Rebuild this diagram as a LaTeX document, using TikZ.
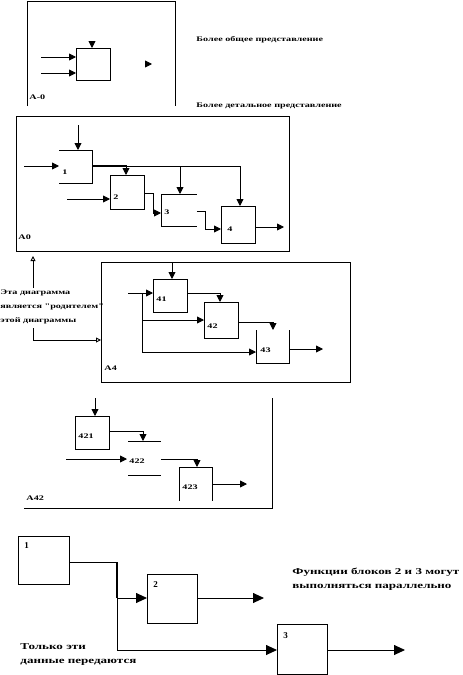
\documentclass[tikz,border=0pt]{standalone}
\usepackage{fontspec}
\setmainfont{Liberation Serif}
\newfontfamily\wfont[FakeStretch=1.45]{Liberation Serif}
\usetikzlibrary{arrows.meta}
\begin{document}
\begin{tikzpicture}[x=1pt,y=-1pt,line width=0.9pt,
  tip/.style={-{Triangle[length=7pt,width=7pt]}},
  tipL/.style={-{Triangle[length=11pt,width=10pt]}},
  otip/.style={-{Triangle[open,length=5pt,width=5pt]}},
  box/.style={draw,inner sep=0pt,anchor=north west},
  pbox/.style={draw=none,inner sep=0pt,anchor=north west},
  lab/.style={anchor=west,inner sep=0pt,font=\wfont\bfseries\fontsize{7}{8}\selectfont},
  note/.style={anchor=west,inner sep=0pt,align=left,font=\wfont\bfseries\fontsize{7}{14}\selectfont},
  bignote/.style={anchor=west,inner sep=0pt,align=left,font=\wfont\bfseries\fontsize{9}{14}\selectfont},
  blab/.style={anchor=west,inner sep=0pt,font=\bfseries\fontsize{9}{10}\selectfont},
  thick2/.style={line width=1.8pt}]
\useasboundingbox (0,0) rectangle (463,675);

% ---------- A-0 ----------
\draw (27,106) -- (27,1) -- (175,1) -- (175,106);
\node[box,minimum width=34pt,minimum height=32pt] (a00) at (76,48) {};
\draw[tip] (92,41) -- (a00.north -| 92,0);
\draw[tip] (41,57) -- (a00.west |- 0,57);
\draw[tip] (41,73) -- (a00.west |- 0,73);
\coordinate (a00o) at (145,64);
\draw[tip] (a00o) -- ++(7,0);
\node[lab] (la00) at (29,97) {А-0};
\node[note] (t1) at (196,40) {Более общее представление};
\node[note] (t2) at (196,106) {Более детальное представление};

% ---------- A0 ----------
\draw (16,116) rectangle (289,251);
\node[lab] (la0) at (18,237) {А0};
\node[pbox,minimum width=33pt,minimum height=33pt] (b1) at (59,150) {};
\draw (b1.north west) -- (b1.north east) -- (b1.south east) -- (b1.south west);
\draw[tip] (78,125) -- (78,150);
\draw[tip] (24,166) -- (b1.west |- 0,166);
\node[lab] (lb1) at (62,172) {1};
\draw[thick2] (b1.east |- 0,166) -- (127,166);
\draw (127,166) -- (240,166);
\node[box,minimum width=34pt,minimum height=34pt] (b2) at (110,175) {};
\node[pbox,minimum width=35pt,minimum height=32pt] (b3) at (161,194) {};
\draw (b3.north east) -- (b3.north west) -- (b3.south west) -- (b3.south east);
\node[box,minimum width=34pt,minimum height=37pt] (b4) at (221,206) {};
\draw[tip] (240,166) -- (b4.north -| 240,0);
\draw[tip] (126,166) -- (b2.north -| 126,0);
\draw[tip] (180,166) -- (b3.north -| 180,0);
\node[lab] (lb2) at (113,197) {2};
\draw[tip] (67,199) -- (b2.west |- 0,199);
\draw[tip] (b2.east |- 0,193) -- (153,193) -- (153,213) -- (b3.west |- 0,213);
\node[lab] (lb3) at (164,212) {3};
\draw[tip] (b3.east |- 0,211) -- (205,211) -- (205,229) -- (b4.west |- 0,229);
\node[lab] (lb4) at (227,229) {4};
\draw[tip] (b4.east |- 0,227) -- (284,227);

% ---------- parent note ----------
\node[note] (pn) at (0,307) {Эта диаграмма\\является "родителем"\\этой диаграммы};
\draw[otip] (33,288) -- (33,256);
\draw[otip] (33,328) -- (33,340) -- (101,340);

% ---------- A4 ----------
\draw (101,262) rectangle (350,382);
\node[lab] (la4) at (104,368) {А4};
\node[box,minimum width=34pt,minimum height=33pt] (c1) at (153,279) {};
\node[box,minimum width=34pt,minimum height=36pt] (c2) at (204,302) {};
\node[pbox,minimum width=33pt,minimum height=33pt] (c3) at (256,330) {};
\draw (c3.north west) -- (c3.south west) -- (c3.south east) -- (c3.north east);
\draw[tip] (172,262) -- (c1.north -| 172,0);
\draw[tip] (128,293) -- (c1.west |- 0,293);
\node[lab] (lc1) at (156,299) {41};
\draw (142,293) -- (142,352);
\draw[tip] (142,320) -- (c2.west |- 0,320);
\draw[tip] (142,352) -- (c3.west |- 0,352);
\draw[tip] (c1.east |- 0,293) -- (220,293) -- (c2.north -| 220,0);
\node[lab] (lc2) at (207,326) {42};
\draw[tip] (c2.east |- 0,322) -- (273,322) -- (c3.north -| 273,0);
\node[lab] (lc3) at (260,350) {43};
\draw[tip] (c3.east |- 0,349) -- (323,349);

% ---------- A42 ----------
\draw (24,508) -- (272,508) -- (272,398);
\node[lab] (la42) at (26,498) {А42};
\node[box,minimum width=34pt,minimum height=33pt] (d1) at (75,416) {};
\node[pbox,minimum width=32pt,minimum height=34pt] (d2) at (128,441) {};
\draw (d2.north west) -- (d2.north east);
\draw (d2.south west) -- (d2.south east);
\node[pbox,minimum width=33pt,minimum height=33pt] (d3) at (179,467) {};
\draw (d3.south west) -- (d3.north west) -- (d3.north east) -- (d3.south east);
\draw[tip] (95,398) -- (d1.north -| 95,0);
\node[lab] (ld1) at (78,436) {421};
\draw[tip] (d1.east |- 0,431) -- (143,431) -- (d2.north -| 143,0);
\draw[tip] (66,459) -- (127,459);
\node[lab] (ld2) at (129,461) {422};
\draw[tip] (d2.east |- 0,459) -- (197,459) -- (d3.north -| 197,0);
\node[lab] (ld3) at (182,487) {423};
\draw[tip] (d3.east |- 0,484) -- (247,484);

% ---------- bottom ----------
\node[box,minimum width=51pt,minimum height=48pt] (e1) at (18,536) {};
\node[box,minimum width=50pt,minimum height=49pt] (e2) at (147,574) {};
\node[box,minimum width=50pt,minimum height=50pt] (e3) at (277,624) {};
\node[blab] (le1) at (24,546) {1};
\node[blab] (le2) at (153,585) {2};
\node[blab] (le3) at (283,636) {3};
\draw (e1.east |- 0,562) -- (117,562);
\draw[thick2] (117,562) -- (117,598);
\draw (117,598) -- (117,650);
\draw[tipL] (117,598) -- (e2.west |- 0,598);
\draw[tipL] (117,650) -- (e3.west |- 0,650);
\draw[tipL] (e2.east |- 0,598) -- (264,598);
\draw[tipL] (e3.east |- 0,650) -- (405,650);
\node[bignote] (n1) at (292,579) {Функции блоков 2 и 3 могут\\выполняться параллельно};
\node[bignote] (n2) at (20,655) {Только эти\\данные передаются};
\end{tikzpicture}
\end{document}
